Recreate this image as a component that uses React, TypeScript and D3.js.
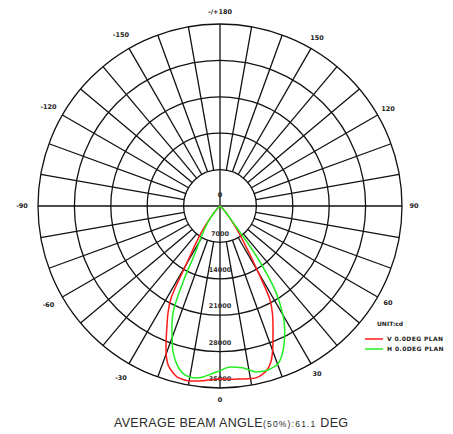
import React from "react";
import * as d3 from "d3";

const angles = [-90, -70, -60, -50, -45, -42, -39, -36, -33, -30, -28, -26, -24, -22, -20, -18, -16, -14, -12, -10, -8, -6, -4, -2, 0, 2, 4, 6, 8, 10, 12, 14, 16, 18, 20, 22, 24, 26, 28, 30, 33, 36, 39, 42, 45, 50, 60, 70, 90];
const vPlane = [0, 30, 80, 250, 700, 1500, 3000, 5500, 8500, 13000, 20000, 22800, 25050, 27600, 30300, 32200, 33200, 33900, 34100, 34150, 34000, 33800, 33550, 33400, 33270, 33300, 33400, 33460, 33600, 33700, 33750, 33400, 32800, 31600, 29600, 27200, 25050, 23000, 20500, 14500, 8700, 5500, 3000, 1500, 700, 250, 80, 30, 0];
const hPlane = [0, 30, 100, 300, 800, 1500, 2800, 4200, 5800, 8000, 10000, 16000, 22000, 24700, 26900, 29300, 31000, 32300, 33100, 33400, 33400, 33100, 32600, 32100, 31700, 31200, 31050, 31200, 31400, 32000, 32600, 32800, 32850, 32700, 32400, 31400, 30000, 28300, 26500, 24200, 19700, 12000, 3500, 1800, 800, 300, 100, 30, 0];
const ringTicks = [7000, 14000, 21000, 28000, 35000];
const angleTicks = [0, 30, 60, 90, 120, 150, 180, -150, -120, -90, -60, -30];
const angleLabels = ["0", "30", "60", "90", "120", "150", "-/+180", "-150", "-120", "-90", "-60", "-30"];
const seriesNames = ["V 0.0DEG PLAN", "H 0.0DEG PLAN"];
const seriesColors = ["#ff1a1a", "#22ee22"];

export default function App() {
  const cx = 220, cy = 206, R = 182;
  const r = d3.scaleLinear().domain([0, 35000]).range([0, R]);
  const rad = (deg: number) => (deg * Math.PI) / 180;
  const px = (deg: number, rr: number) => cx + rr * Math.sin(rad(deg));
  const py = (deg: number, rr: number) => cy + rr * Math.cos(rad(deg));
  const spokes = d3.range(0, 360, 10);
  const inner = r(ringTicks[0]);
  const line = d3
    .lineRadial<number>()
    .angle((_, i) => Math.PI - rad(angles[i]))
    .radius((v) => r(v))
    .curve(d3.curveCatmullRom.alpha(0.5));
  const series = [vPlane, hPlane];
  const gridColor = "#111";
  return (
    <svg width={453} height={434} style={{ position: "absolute", left: 0, top: 0, background: "#fff" }}>
      <g fill="none" stroke={gridColor} strokeWidth={1.3}>
        {ringTicks.map((t) => (
          <circle key={t} cx={cx} cy={cy} r={r(t)} />
        ))}
        {spokes.map((a) => (
          <line key={a} x1={px(a, inner)} y1={py(a, inner)} x2={px(a, R)} y2={py(a, R)} />
        ))}
        <line x1={cx} y1={cy - inner} x2={cx} y2={cy + inner} />
        <line x1={cx - inner} y1={cy} x2={cx + inner} y2={cy} />
      </g>
      <g fontFamily="DejaVu Sans" fontWeight="bold" fontSize={6.5} fill="#222" textAnchor="middle">
        {angleTicks.map((a, i) => (
          <text key={a} x={px(a, a < 0 ? 198 : 194)} y={py(a, a < 0 ? 198 : 194)} dy="0.35em">
            {angleLabels[i]}
          </text>
        ))}
        <text x={cx} y={cy - 11} dy="0.35em">0</text>
        {ringTicks.map((t) => (
          <text key={t} x={cx} y={cy + r(t) - 9} dy="0.35em" fill="#333">
            {t}
          </text>
        ))}
      </g>
      <g transform={`translate(${cx},${cy})`} fill="none" strokeWidth={1.5}>
        {series.map((s, i) => (
          <path key={i} d={line(s) || ""} stroke={seriesColors[i]} />
        ))}
      </g>
      <g fontFamily="DejaVu Sans" fontWeight="bold" fontSize={6} fill="#222">
        <text x={377} y={324} dy="0.35em">UNIT:cd</text>
        {seriesNames.map((n, i) => (
          <g key={n}>
            <line x1={365} x2={383} y1={339 + i * 10} y2={339 + i * 10} stroke={seriesColors[i]} strokeWidth={1.5} />
            <text x={387} y={339 + i * 10} dy="0.35em" letterSpacing={0.4}>{n}</text>
          </g>
        ))}
      </g>
      <text x={114} y={427} fontFamily="Liberation Sans, Arial" fontSize={12.5} fill="#2a2a2a" letterSpacing={0.3}>
        AVERAGE BEAM ANGLE
        <tspan fontSize={8.5} letterSpacing={1.2}>(50%):61.1</tspan>
        <tspan> DEG</tspan>
      </text>
    </svg>
  );
}
